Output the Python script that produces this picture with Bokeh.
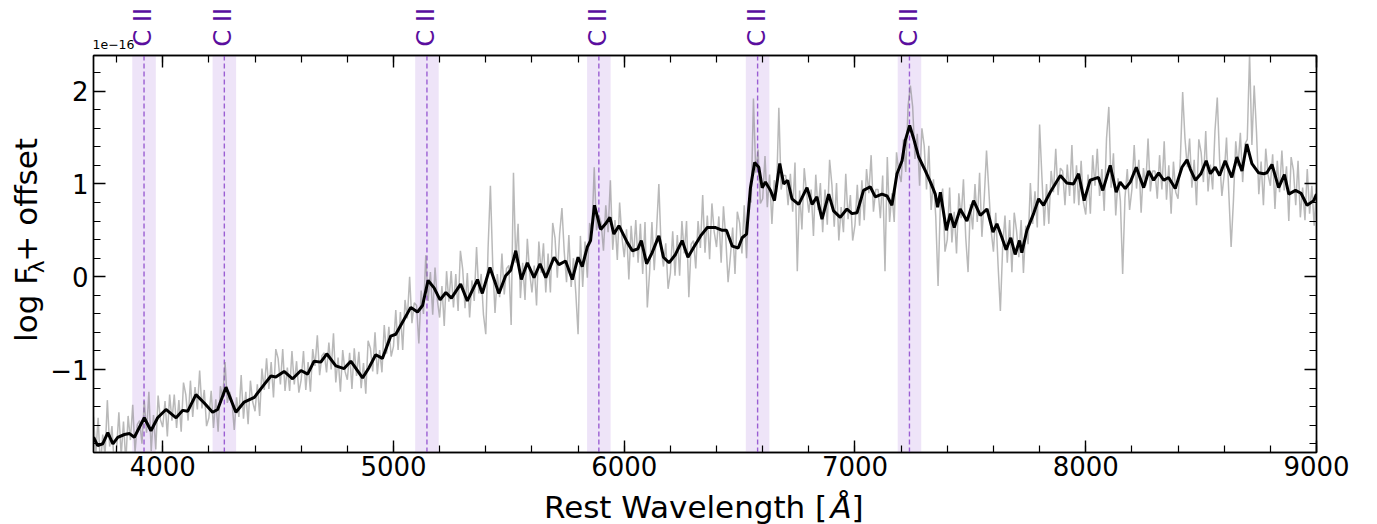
from bokeh.plotting import figure
from bokeh.layouts import column, row
from bokeh.models import Span, BoxAnnotation, LinearAxis, FixedTicker, Range1d
from bokeh.core.properties import value
from bokeh.embed import file_html
from bokeh.resources import INLINE

# ---------------- data ----------------
smooth_wave = [3700, 3718, 3740, 3762, 3784, 3805, 3834, 3856, 3877, 3920, 3949, 3978,
               4014, 4058, 4087, 4108, 4144, 4180, 4216, 4238, 4274, 4317, 4353, 4397,
               4440, 4469, 4490, 4526, 4563, 4599, 4628, 4656, 4685, 4711, 4750, 4786,
               4815, 4866, 4894, 4923, 4952, 4988, 5010, 5039, 5075, 5104, 5126, 5150,
               5176, 5202, 5227, 5251, 5291, 5320, 5364, 5385, 5418, 5457, 5486, 5508,
               5530, 5554, 5580, 5609, 5635, 5660, 5696, 5717, 5746, 5775, 5800, 5818,
               5840, 5854, 5871, 5898, 5919, 5938, 5955, 5977, 6013, 6035, 6059, 6074,
               6097, 6121, 6150, 6170, 6194, 6222, 6251, 6276, 6302, 6331, 6360, 6396,
               6425, 6443, 6468, 6494, 6511, 6530, 6547, 6565, 6583, 6598, 6612, 6634,
               6651, 6674, 6691, 6708, 6727, 6756, 6792, 6814, 6835, 6857, 6886, 6907,
               6936, 6965, 6987, 7009, 7037, 7066, 7088, 7117, 7139, 7160, 7182, 7204,
               7218, 7237, 7254, 7276, 7305, 7327, 7348, 7358, 7370, 7396, 7413, 7430,
               7456, 7485, 7514, 7543, 7572, 7598, 7615, 7637, 7655, 7675, 7694, 7713,
               7723, 7745, 7774, 7796, 7817, 7846, 7890, 7918, 7947, 7969, 7993, 8019,
               8055, 8074, 8106, 8132, 8149, 8171, 8193, 8219, 8251, 8273, 8294, 8316,
               8338, 8359, 8388, 8417, 8439, 8453, 8475, 8499, 8522, 8540, 8561, 8580,
               8604, 8633, 8655, 8677, 8698, 8720, 8749, 8771, 8785, 8807, 8836, 8861,
               8880, 8909, 8933, 8959, 8988, 9000]
smooth_flux = [-1.73, -1.82, -1.80, -1.68, -1.80, -1.73, -1.70, -1.69, -1.73, -1.52, -1.66, -1.52,
               -1.43, -1.52, -1.44, -1.45, -1.27, -1.36, -1.46, -1.43, -1.19, -1.46, -1.35, -1.30,
               -1.16, -1.07, -1.08, -1.02, -1.10, -1.01, -1.05, -0.91, -0.92, -0.83, -0.96, -0.99,
               -0.91, -1.09, -0.98, -0.84, -0.88, -0.64, -0.62, -0.49, -0.33, -0.38, -0.31, -0.04,
               -0.12, -0.25, -0.17, -0.23, -0.08, -0.26, -0.03, -0.18, 0.10, -0.18, 0.01, 0.07,
               0.28, -0.03, 0.15, -0.01, 0.14, -0.01, 0.21, 0.13, 0.17, -0.03, 0.21, 0.11,
               0.32, 0.39, 0.77, 0.51, 0.57, 0.64, 0.46, 0.55, 0.37, 0.28, 0.30, 0.39,
               0.14, 0.26, 0.44, 0.21, 0.15, 0.24, 0.39, 0.21, 0.32, 0.44, 0.53, 0.53,
               0.50, 0.50, 0.33, 0.31, 0.42, 0.46, 0.96, 1.23, 1.18, 0.96, 1.02, 0.93,
               0.82, 1.22, 1.00, 1.04, 0.84, 0.78, 0.96, 0.78, 0.86, 0.62, 0.89, 0.71,
               0.64, 0.73, 0.68, 0.69, 0.93, 0.97, 0.86, 0.89, 0.87, 0.77, 1.11, 1.25,
               1.47, 1.63, 1.49, 1.29, 1.14, 1.02, 0.89, 0.75, 0.91, 0.50, 0.68, 0.53,
               0.73, 0.60, 0.82, 0.66, 0.73, 0.48, 0.57, 0.42, 0.29, 0.42, 0.24, 0.39,
               0.26, 0.50, 0.68, 0.84, 0.77, 0.91, 1.09, 1.01, 1.00, 1.11, 0.82, 1.04,
               1.07, 0.93, 1.20, 0.91, 1.02, 0.95, 1.02, 1.18, 0.96, 1.14, 1.04, 1.12,
               1.04, 1.07, 0.95, 1.18, 1.26, 1.16, 1.04, 1.11, 1.25, 1.11, 1.18, 1.09,
               1.25, 1.07, 1.29, 1.14, 1.43, 1.22, 1.12, 1.11, 1.12, 1.21, 0.96, 1.10,
               0.89, 0.93, 0.90, 0.77, 0.82, 0.89]

raw_start, raw_step = 3700, 10
raw_flux = [
    -1.51, -1.92, -1.52, -2.05, -1.70, -1.93, -1.33, -1.83, -1.61, -2.04,
    -1.86, -1.46, -1.93, -1.56, -2.00, -1.50, -1.76, -1.38, -1.89, -1.59,
    -1.55, -1.80, -1.34, -1.68, -1.24, -1.88, -1.49, -1.86, -1.28, -1.54,
    -1.62, -1.34, -1.72, -1.27, -1.55, -1.27, -1.63, -1.33, -1.67, -1.14,
    -1.27, -1.55, -1.12, -1.51, -1.19, -1.43, -1.01, -1.42, -1.22, -1.61,
    -1.52, -1.23, -1.63, -1.32, -1.67, -1.18, -1.31, -0.92, -1.36, -1.24,
    -1.34, -1.65, -1.30, -1.51, -1.06, -1.53, -1.24, -1.59, -1.12, -1.35,
    -1.45, -1.16, -1.50, -0.99, -1.22, -0.88, -1.21, -0.92, -1.30, -0.78,
    -0.88, -1.16, -0.78, -1.23, -0.98, -1.23, -0.80, -1.16, -0.91, -1.25,
    -1.11, -0.80, -1.22, -0.92, -1.24, -0.78, -0.96, -0.63, -1.06, -0.85,
    -0.82, -1.03, -0.71, -1.00, -0.61, -1.14, -0.87, -1.24, -0.79, -1.02,
    -1.11, -0.82, -1.21, -0.77, -1.07, -0.81, -1.20, -0.93, -1.26, -0.69,
    -0.77, -1.02, -0.60, -1.05, -0.79, -1.03, -0.52, -0.83, -0.54, -0.86,
    -0.75, -0.36, -0.79, -0.38, -0.79, -0.25, -0.45, 0.00, -0.50, -0.28,
    -0.31, -0.72, -0.15, -0.40, 0.23, -0.26, 0.05, -0.41, 0.10, -0.25,
    -0.44, -0.10, -0.53, 0.06, -0.27, 0.06, -0.33, 0.03, -0.37, 0.28,
    0.08, -0.34, 0.04, -0.44, -0.04, -0.26, 0.32, -0.18, 0.03, -0.41,
    -0.62, 0.31, 0.98, 0.14, -0.39, 0.03, -0.22, 0.25, -0.19, 0.09,
    0.12, -0.52, 1.12, 0.15, 0.57, -0.23, 0.15, -0.25, 0.41, 0.05,
    -0.17, 0.12, -0.31, 0.38, 0.04, 0.36, -0.17, 0.25, -0.17, 0.58,
    0.42, -0.01, 0.46, 0.74, 0.27, -0.06, 0.45, -0.11, 0.20, -0.17,
    -0.62, 0.44, -0.11, 0.38, -0.01, 0.58, 0.48, 1.18, 0.50, 0.66,
    0.58, 0.28, 0.77, 0.48, 1.04, 0.29, 0.61, 0.18, 0.80, 0.43,
    0.21, 0.51, -0.03, 0.55, 0.21, 0.61, 0.15, 0.57, 0.03, 0.59,
    -0.33, 0.05, 0.59, 0.07, 0.50, 1.00, 0.30, 0.11, 0.36, -0.13,
    0.04, 0.49, 0.01, 0.45, 0.01, 0.60, 0.25, 0.60, -0.22, 0.35,
    0.39, 0.09, 0.60, 0.31, 0.88, 0.26, 0.66, 0.19, 0.79, 0.48,
    0.32, 0.65, 0.15, 0.76, 0.42, -0.06, 0.22, 0.53, 0.03, 0.70,
    0.58, 0.25, 0.77, 0.20, 0.85, 0.80, 1.92, 1.12, 1.37, 0.79,
    0.84, 1.30, 0.75, 1.10, 0.57, 1.04, 0.91, 1.82, 0.94, 1.09,
    1.09, 0.77, 1.11, 0.70, 1.23, 0.06, 0.93, 0.51, 1.17, 0.91,
    0.69, 0.94, 0.44, 1.10, 0.72, 1.01, 0.48, 0.94, 0.56, 1.26,
    0.99, 0.54, 1.01, 0.39, 0.75, 0.48, 1.11, 0.62, 0.88, 0.39,
    0.56, 0.99, 0.55, 1.04, 0.61, 1.16, 0.90, 1.31, 0.70, 0.94,
    0.94, 0.63, 1.09, 0.06, 1.29, 0.59, 0.90, 0.59, 1.34, 1.12,
    1.02, 1.48, 1.13, 1.84, 2.06, 1.83, 1.27, 1.54, 0.98, 1.60,
    1.41, 0.94, 1.41, 0.72, 1.05, 0.65, -0.10, 0.80, 0.95, 0.27,
    0.40, 0.96, 0.37, 0.70, 0.25, 0.90, 0.63, 1.05, 0.42, 0.05,
    0.78, 0.51, 1.00, 0.59, 1.12, 0.43, 0.84, 1.36, 0.93, 0.50,
    0.27, 0.69, 0.13, -0.37, 0.32, 0.66, 0.15, 0.61, 0.05, 0.69,
    0.50, 0.21, 0.61, 0.04, 0.55, 0.35, 1.01, 0.57, 0.92, 0.53,
    1.64, 1.08, 0.55, 1.00, 0.57, 1.14, 0.91, 1.38, 0.88, 1.17,
    1.14, 0.77, 1.21, 0.87, 1.42, 0.79, 1.20, 0.77, 1.25, 0.80,
    0.67, 1.10, 0.68, 1.31, 0.98, 1.38, 0.87, 1.16, 0.71, 1.49,
    1.83, 0.96, 1.33, 0.66, 1.06, 0.82, 0.03, 0.85, 1.16, 0.72,
    0.94, 1.42, 0.95, 1.26, 0.69, 1.17, 0.98, 1.49, 0.92, 1.14,
    1.14, 0.84, 1.31, 0.94, 1.46, 0.83, 1.20, 0.68, 1.24, 0.91,
    0.84, 1.27, 1.99, 1.49, 1.18, 1.49, 0.96, 1.26, 0.77, 1.48,
    1.34, 1.02, 1.57, 0.92, 1.21, 0.94, 1.57, 1.93, 1.27, 0.87,
    1.10, 1.50, 0.90, 0.32, 0.82, 1.46, 1.19, 1.55, 1.02, 1.43,
    1.48, 2.40, 1.42, 2.06, 1.56, 0.89, 1.24, 0.77, 1.38, 1.10,
    0.98, 1.32, 0.73, 1.25, 0.91, 1.36, 0.93, 1.19, 0.60, 1.29,
    1.15, 0.77, 1.25, 0.64, 0.96, 0.61, 1.16, 0.68, 0.98, 0.55,
    0.95]
raw_wave = [raw_start + raw_step * i for i in range(len(raw_flux))]

line_names = ["C II", "C II", "C II", "C II", "C II", "C II"]
line_waves = [3919, 4267, 5145, 5890, 6578, 7236]
band_half_width = 51

x_ticks = [4000, 5000, 6000, 7000, 8000, 9000]
x_minor = [3800 + 200 * i for i in range(27)]
y_ticks = [-1, 0, 1, 2]
y_tick_labels = ["\u22121", "0", "1", "2"]
y_minor = [round(-1.8 + 0.2 * i, 1) for i in range(21)]

X0, X1 = 3700, 9000
Y0, Y1 = -1.894, 2.384

# ---------------- layout geometry (pixels) ----------------
W = 1377
FRAME_L, FRAME_R = 92, 61
TOP_H = 52
MAIN_TOP, MAIN_BOT = 3, 34
FRAME_H = 397
MAIN_H = MAIN_TOP + FRAME_H + MAIN_BOT
LEFT_W = 47
BOT_H = 524 - TOP_H - MAIN_H
FONT = "DejaVu Sans"

xr = Range1d(X0, X1)


def bare(fig):
    fig.grid.visible = False
    fig.outline_line_color = None
    fig.background_fill_color = "white"
    fig.border_fill_color = "white"
    return fig


# ---------------- main figure ----------------
p = figure(width=W - LEFT_W, height=MAIN_H, x_range=xr, y_range=Range1d(Y0, Y1),
           output_backend="svg", toolbar_location=None,
           min_border_left=FRAME_L - LEFT_W, min_border_right=FRAME_R,
           min_border_top=MAIN_TOP, min_border_bottom=MAIN_BOT)
p.grid.visible = False
p.outline_line_color = "black"
p.outline_line_width = 1.4
p.background_fill_color = "white"
p.border_fill_color = "white"


def style_axis(ax, show_labels):
    ax.major_tick_in = 12
    ax.major_tick_out = 0
    ax.minor_tick_in = 7
    ax.minor_tick_out = 0
    ax.major_tick_line_width = 1.4
    ax.minor_tick_line_width = 1.2
    ax.major_tick_line_color = "black"
    ax.minor_tick_line_color = "black"
    ax.axis_line_color = "black"
    ax.axis_line_width = 1.4
    ax.major_label_text_font = FONT
    ax.major_label_text_font_size = "26px"
    ax.major_label_text_color = "black"
    if not show_labels:
        ax.major_label_text_font_size = "1px"
        ax.major_label_text_alpha = 0.0
        ax.major_label_standoff = 0


p.xaxis.ticker = FixedTicker(ticks=x_ticks, minor_ticks=x_minor)
p.yaxis.ticker = FixedTicker(ticks=y_ticks, minor_ticks=y_minor)
style_axis(p.xaxis[0], True)
style_axis(p.yaxis[0], True)
p.xaxis.major_label_standoff = 3
p.yaxis.major_label_standoff = 5
p.yaxis.major_label_overrides = {t: s for t, s in zip(y_ticks, y_tick_labels)}

top_ax = LinearAxis(ticker=FixedTicker(ticks=x_ticks, minor_ticks=x_minor))
style_axis(top_ax, False)
top_ax.major_label_overrides = {t: "" for t in x_ticks}
p.add_layout(top_ax, "above")
right_ax = LinearAxis(ticker=FixedTicker(ticks=y_ticks, minor_ticks=y_minor))
style_axis(right_ax, False)
right_ax.major_label_overrides = {t: "" for t in y_ticks}
p.add_layout(right_ax, "right")

BAND = "#9b5fd3"
for w in line_waves:
    p.add_layout(BoxAnnotation(left=w - band_half_width, right=w + band_half_width,
                               fill_color=BAND, fill_alpha=0.17, line_color=None,
                               level="underlay"))
for w in line_waves:
    p.add_layout(Span(location=w, dimension="height", line_color=BAND,
                      line_dash="5 3", line_width=1.4, level="underlay"))

p.line(raw_wave, raw_flux, line_color="#808080", line_alpha=0.55, line_width=1.5)
p.line(smooth_wave, smooth_flux, line_color="black", line_width=3)

# ---------------- strip above: line labels + offset text ----------------
top = bare(figure(width=W, height=TOP_H, x_range=xr, y_range=Range1d(0, TOP_H),
                  output_backend="svg", toolbar_location=None,
                  x_axis_location=None, y_axis_location=None,
                  min_border_left=FRAME_L, min_border_right=FRAME_R,
                  min_border_top=0, min_border_bottom=0))
top.text(x=line_waves, y=6, text=line_names, angle=90, angle_units="deg",
         text_align="left", text_baseline="middle", text_font=value(FONT),
         text_font_size="24px", text_color="#5a0e9e")
top.text(x=[X0], y=7.6, text=["1e\u221216"], text_align="left",
         text_baseline="middle", text_font=value(FONT), text_font_size="12.5px",
         text_color="black")

# ---------------- strip left: y axis label ----------------
upp = (Y1 - Y0) / FRAME_H
left = bare(figure(width=LEFT_W, height=MAIN_H, x_range=Range1d(0, LEFT_W),
                   y_range=Range1d(Y0 - MAIN_BOT * upp, Y1 + MAIN_TOP * upp),
                   output_backend="svg", toolbar_location=None,
                   x_axis_location=None, y_axis_location=None,
                   min_border_left=0, min_border_right=0,
                   min_border_top=0, min_border_bottom=0))
left.text(x=[25.3, 25.3], y=[-0.958, -0.012], text=["log F", " + offset"], angle=90,
          angle_units="deg", text_align="left", text_baseline="middle",
          text_font=value(FONT), text_font_size="31px", text_color="black")
left.text(x=[35.5], y=[-0.150], text=["\u03bb"], angle=90, angle_units="deg",
          text_align="left", text_baseline="middle",
          text_font=value(FONT), text_font_size="21.7px", text_color="black")

# ---------------- strip below: x axis label ----------------
bot = bare(figure(width=W, height=BOT_H, x_range=xr, y_range=Range1d(0, BOT_H),
                  output_backend="svg", toolbar_location=None,
                  x_axis_location=None, y_axis_location=None,
                  min_border_left=FRAME_L, min_border_right=FRAME_R,
                  min_border_top=0, min_border_bottom=0))
bot.text(x=[5655, 6987], y=18, text=["Rest Wavelength [", "]"], text_align="left",
         text_baseline="middle", text_font=value(FONT), text_font_size="31px",
         text_color="black")
bot.text(x=[6896], y=18, text=["\u00c5"], text_align="left",
         text_baseline="middle", text_font=value(FONT), text_font_size="31px",
         text_font_style="italic", text_color="black")

layout = column(top, row(left, p), bot)
open("out.html", "w").write(file_html(layout, INLINE))
